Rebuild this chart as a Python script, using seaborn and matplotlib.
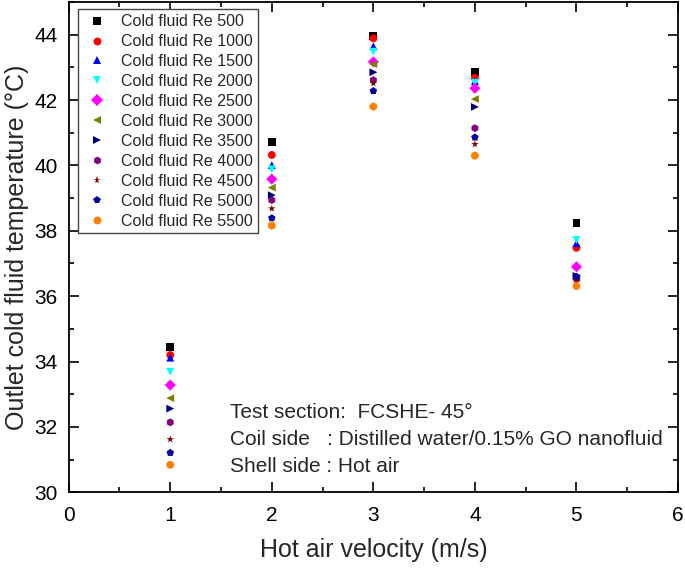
import numpy as np
import pandas as pd
import seaborn as sns
import matplotlib.pyplot as plt
from matplotlib.ticker import MultipleLocator

sns.set_theme(style='ticks')
plt.rcParams['font.family'] = ['Liberation Sans', 'DejaVu Sans']

velocity = [1, 2, 3, 4, 5]
re_numbers = [500, 1000, 1500, 2000, 2500, 3000, 3500, 4000, 4500, 5000, 5500]

# outlet cold fluid temperature (C) at each velocity, one list per Re
t_re500 = [34.44, 40.71, 43.95, 42.87, 38.25]
t_re1000 = [34.20, 40.32, 43.89, 42.68, 37.48]
t_re1500 = [34.12, 40.01, 43.65, 42.58, 37.62]
t_re2000 = [33.69, 39.88, 43.48, 42.53, 37.72]
t_re2500 = [33.28, 39.58, 43.17, 42.36, 36.90]
t_re3000 = [32.88, 39.32, 43.10, 42.03, 36.56]
t_re3500 = [32.56, 39.09, 42.85, 41.79, 36.62]
t_re4000 = [32.14, 38.94, 42.61, 41.14, 36.53]
t_re4500 = [31.62, 38.68, 42.51, 40.65, 36.50]
t_re5000 = [31.21, 38.39, 42.28, 40.86, 36.60]
t_re5500 = [30.84, 38.16, 41.80, 40.30, 36.31]

temps = [t_re500, t_re1000, t_re1500, t_re2000, t_re2500, t_re3000,
         t_re3500, t_re4000, t_re4500, t_re5000, t_re5500]

colors = ['#000000', '#FF0000', '#0000FF', '#00FFFF', '#FF00FF', '#808000',
          '#000080', '#800080', '#800000', '#0000A0', '#FF8000']
marker_list = ['s', 'o', '^', 'v', 'D', '<', '>', 'h', '*', 'p', 'o']

labels = [f'Cold fluid Re {r}' for r in re_numbers]
rows = []
for lab, t in zip(labels, temps):
    for v, val in zip(velocity, t):
        rows.append({'velocity': v, 'temp': val, 'series': lab})
df = pd.DataFrame(rows)

fig = plt.figure(figsize=(6.85, 5.7), dpi=100)
ax = fig.add_axes([0.1003, 0.1363, 0.8895, 0.8602])

sns.scatterplot(data=df, x='velocity', y='temp', hue='series', style='series',
                hue_order=labels, style_order=labels,
                palette=dict(zip(labels, colors)),
                markers=dict(zip(labels, marker_list)),
                s=32, linewidth=0, ax=ax)

ax.set_xlim(0, 6)
ax.set_ylim(30, 45)
ax.xaxis.set_major_locator(MultipleLocator(1))
ax.xaxis.set_minor_locator(MultipleLocator(0.5))
ax.yaxis.set_minor_locator(MultipleLocator(1))
ax.set_yticks(np.arange(30, 45, 2))

for s in ax.spines.values():
    s.set_visible(True)
    s.set_linewidth(1.3)
    s.set_color('black')

ax.tick_params(which='both', direction='in', top=True, right=True,
               colors='black', width=1.2)
ax.tick_params(which='major', length=7)
ax.tick_params(which='minor', length=3.5)
ax.tick_params(axis='x', labelsize=15, pad=9.5)
ax.tick_params(axis='y', labelsize=15, pad=8)

ax.set_xlabel('Hot air velocity (m/s)', fontsize=18, labelpad=10)
ax.set_ylabel('Outlet cold fluid temperature (°C)', fontsize=18, labelpad=4)

handles, labs = ax.get_legend_handles_labels()
leg = ax.legend(handles, labs, loc='upper left', bbox_to_anchor=(0.015, 0.985),
                borderaxespad=0, fontsize=11.5, labelspacing=0.31,
                handlelength=1.8, handletextpad=0.6, borderpad=0.3,
                frameon=True, fancybox=False, framealpha=1)
leg.get_frame().set_edgecolor('#444444')
leg.get_frame().set_linewidth(1.0)

ann = ['Test section:  FCSHE- 45°',
       'Coil side   : Distilled water/0.15% GO nanofluid',
       'Shell side : Hot air']
for i, line in enumerate(ann):
    fig.text(230 / 685, 1 - (418 + 27 * i) / 570, line, fontsize=15,
             va='baseline', ha='left')

fig.savefig('out.png', dpi=100)
